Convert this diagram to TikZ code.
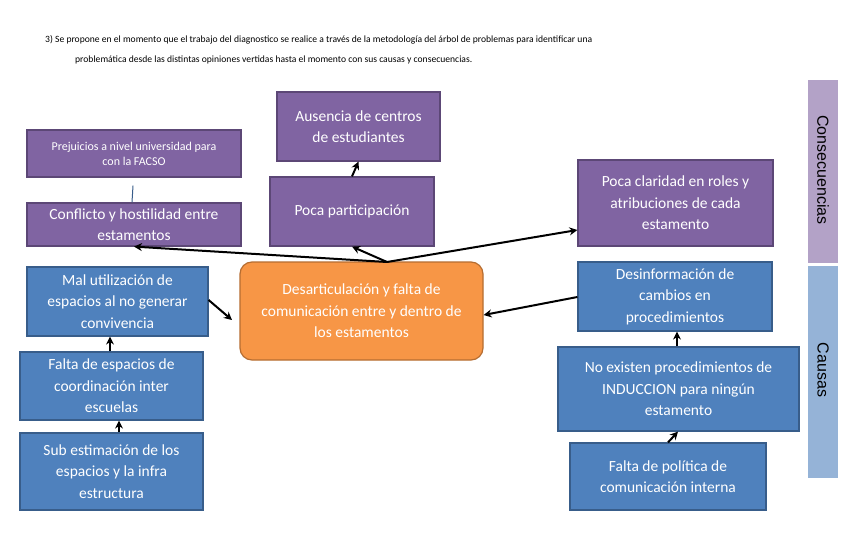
\documentclass[tikz,border=0pt]{standalone}
\usepackage{fontspec}
\setmainfont{Carlito}
\newfontfamily\arialf{Liberation Sans}
\usetikzlibrary{arrows.meta}
\definecolor{purp}{HTML}{8064A2}
\definecolor{purpd}{HTML}{5C4776}
\definecolor{blu}{HTML}{4F81BD}
\definecolor{blud}{HTML}{385D8A}
\definecolor{orng}{HTML}{F79646}
\definecolor{orngd}{HTML}{B66D31}
\definecolor{lpurp}{HTML}{B3A2C7}
\definecolor{lblu}{HTML}{95B3D7}
\tikzset{
 bx/.style={draw, line width=1.2pt, text=white, align=center, inner sep=2pt, font=\fontsize{15.5}{21.5}\selectfont},
 pbox/.style={bx, fill=purp, draw=purpd},
 bbox/.style={bx, fill=blu, draw=blud},
 arr/.style={-{Stealth[length=8pt,width=8pt]}, line width=2pt, black},
}
\begin{document}
\begin{tikzpicture}[x=1pt,y=-1pt]
\useasboundingbox (0,0) rectangle (851,540);
\fill[white] (0,0) rectangle (851,540);
\node[anchor=west, font=\fontsize{9.6}{11}\selectfont, inner sep=0] (t1) at (45,40) {3) Se propone en el momento que el trabajo del diagnostico se realice a través de la metodología del árbol de problemas para identificar una};
\node[anchor=west, font=\fontsize{9.6}{11}\selectfont, inner sep=0] (t2) at (75,60) {problemática desde las distintas opiniones vertidas hasta el momento con sus causas y consecuencias.};
% bands
\fill[lpurp] (808,80) rectangle (838,263);
\fill[lblu] (808,266) rectangle (838,478);
\node[rotate=-90, font=\arialf\fontsize{16}{18}\selectfont] (cons) at (823,170) {Consecuencias};
\node[rotate=-90, font=\arialf\fontsize{16}{18}\selectfont] (caus) at (823,370) {Causas};
% boxes
\node[pbox, minimum width=214pt, minimum height=47pt, font=\fontsize{12}{15}\selectfont] (prej) at (134,153.5) {Prejuicios a nivel universidad para\\con la FACSO};
\node[pbox, minimum width=214pt, minimum height=43pt] (conf) at (134,224.5) {Conflicto y hostilidad entre\\estamentos};
\node[pbox, minimum width=163pt, minimum height=69pt] (aus) at (358.5,126.5) {Ausencia de centros\\de estudiantes};
\node[pbox, minimum width=164pt, minimum height=69pt] (poca) at (352,211.5) {Poca participación};
\node[pbox, minimum width=195pt, minimum height=86pt] (clar) at (675.5,203) {Poca claridad en roles y\\atribuciones de cada\\estamento};
\node[bx, fill=orng, draw=orngd, rounded corners=12pt, minimum width=243pt, minimum height=98pt] (core) at (361.5,311) {Desarticulación y falta de\\comunicación entre y dentro de\\los estamentos};
\node[bbox, minimum width=181pt, minimum height=69pt] (mal) at (117.5,301.5) {Mal utilización de\\espacios al no generar\\convivencia};
\node[bbox, minimum width=183pt, minimum height=68pt] (fesp) at (111.5,386) {Falta de espacios de\\coordinación inter\\escuelas};
\node[bbox, minimum width=183pt, minimum height=77pt] (sub) at (111.5,471.5) {Sub estimación de los\\espacios y la infra\\estructura};
\node[bbox, minimum width=194pt, minimum height=69pt] (des) at (675,296.5) {Desinformación de\\cambios en\\procedimientos};
\node[bbox, minimum width=241pt, minimum height=84pt] (noex) at (678.5,389) {No existen procedimientos de\\INDUCCION para ningún\\estamento};
\node[bbox, minimum width=196pt, minimum height=67pt] (fpol) at (668,476.5) {Falta de política de\\comunicación interna};
% connectors
\coordinate (hub) at (387,262);
\draw[arr] (hub) -- (conf.south);
\draw[arr] (hub) -- (poca.south);
\draw[arr] (hub) -- (clar.west |- 0,230);
\draw[arr] (poca.north) -- (aus.south);
\draw[arr] (mal.east |- 0,300) -- (232,320);
\draw[arr] (des.west |- 0,297) -- (core.east |- 0,315);
\draw[arr] (fesp.north -| 110,0) -- (mal.south -| 110,0);
\draw[arr] (sub.north -| 119,0) -- (fesp.south -| 119,0);
\draw[arr] (noex.north -| 677,0) -- (des.south -| 677,0);
\draw[arr] (fpol.north -| 668,0) -- (noex.south -| 678,0);
\draw[blud, line width=1pt] (prej.south -| 133,0) ++(0,8) -- (conf.north -| 132,0);
\end{tikzpicture}
\end{document}
